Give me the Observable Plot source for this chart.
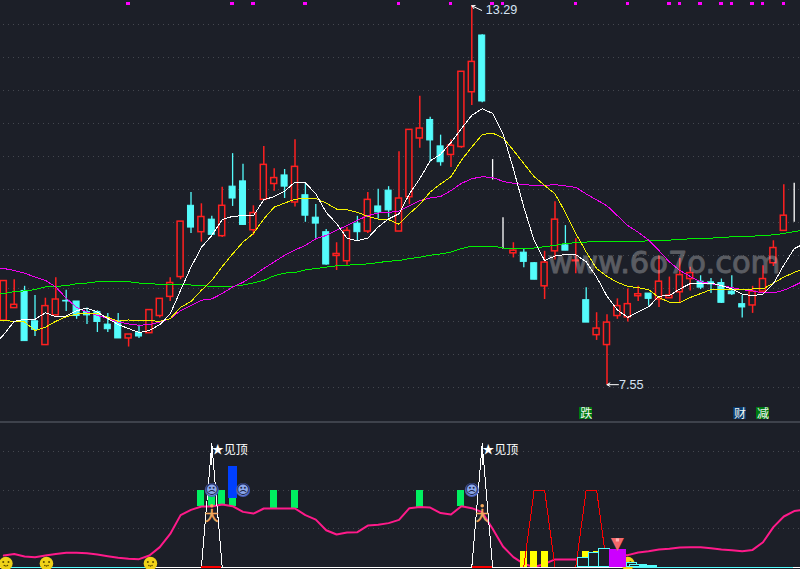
<!DOCTYPE html>
<html><head><meta charset="utf-8">
<script src="https://cdn.jsdelivr.net/npm/d3@7"></script>
<script src="https://cdn.jsdelivr.net/npm/@observablehq/plot@0.6"></script>
<style>html,body{margin:0;padding:0;background:#1c1f28;overflow:hidden}svg{display:block}</style>
</head><body><div id="chart"></div>
<script>
const BG="#1c1f28", RED="#ff3232", CYAN="#54fcfc";
const openP=[8.52,8.71,8.97,8.51,8.15,8.60,8.82,8.81,8.65,8.65,8.46,8.51,8.25,8.33,8.33,8.59,8.88,9.18,10.26,9.86,10.05,9.80,10.55,10.63,9.89,10.35,10.59,10.72,10.31,10.42,10.08,9.86,9.50,9.42,9.99,9.87,10.25,10.49,9.87,10.39,11.28,11.56,11.16,11.03,11.15,11.98,12.84,10.65,9.60,9.54,9.55,9.39,9.04,9.57,9.66,9.42,8.83,8.30,8.15,8.59,8.57,8.89,8.93,8.84,8.86,8.95,9.15,9.11,9.10,9.09,8.96,8.77,8.75,8.96,9.39,9.88,10.01];
const closeP=[9.12,8.76,8.21,8.38,8.74,8.84,8.81,8.59,8.60,8.50,8.39,8.25,8.31,8.28,8.68,8.85,9.09,10.02,9.93,10.09,9.82,10.26,10.37,9.97,10.15,10.88,10.68,10.55,10.85,10.11,9.99,9.37,9.53,9.88,9.86,10.35,10.16,10.19,10.37,11.41,11.43,11.25,10.92,11.17,12.29,12.44,11.84,10.65,9.60,9.58,9.41,9.14,9.40,10.05,9.58,9.43,8.49,8.40,8.49,8.74,8.77,8.92,8.85,9.11,8.90,9.21,9.24,9.02,9.07,8.79,8.92,8.72,8.96,9.15,9.62,10.11,10.01];
const high=[9.12,9.14,9.04,8.90,8.86,9.17,8.98,8.81,8.71,8.67,8.63,8.63,8.31,8.45,8.68,8.85,9.17,10.02,10.46,10.29,10.10,10.54,11.05,10.89,10.26,11.16,10.82,10.81,11.26,10.61,10.28,9.90,9.70,9.93,10.10,10.46,10.51,10.55,11.08,11.41,11.92,11.60,11.33,11.26,12.29,13.29,12.85,10.96,10.08,9.70,9.60,9.40,9.57,10.32,9.96,9.76,9.02,8.64,8.61,8.85,9.00,9.04,8.93,9.50,9.18,9.46,9.33,9.20,9.16,9.15,9.20,8.90,9.04,9.35,9.73,10.58,10.60];
const low=[8.52,8.71,8.21,8.28,8.15,8.60,8.66,8.54,8.46,8.34,8.34,8.25,8.12,8.25,8.33,8.56,8.81,9.14,9.84,9.71,9.82,9.78,10.25,9.96,9.81,10.35,10.48,10.37,10.24,10.01,9.76,9.36,9.28,9.36,9.73,9.84,10.06,10.08,9.87,10.28,11.13,10.92,10.86,10.84,11.13,11.78,11.82,10.65,9.60,9.47,9.32,9.14,8.84,9.44,9.58,9.23,8.49,8.22,7.55,8.54,8.50,8.81,8.74,8.72,8.86,8.78,8.97,8.99,8.93,8.78,8.90,8.56,8.63,8.94,9.34,9.88,10.01];
const ma5=[8.14,8.31,8.51,8.54,8.54,8.64,8.58,8.59,8.67,8.71,8.65,8.55,8.46,8.40,8.34,8.37,8.46,8.62,8.98,9.33,9.63,9.81,10.05,10.10,10.11,10.11,10.35,10.40,10.48,10.62,10.61,10.44,10.16,9.99,9.77,9.73,9.77,9.94,10.06,10.14,10.44,10.67,10.94,11.04,11.22,11.43,11.63,11.73,11.66,11.35,10.82,10.24,9.73,9.43,9.50,9.52,9.52,9.41,9.18,8.89,8.68,8.57,8.65,8.73,8.89,8.90,9.00,9.08,9.09,9.09,9.05,9.00,8.92,8.90,8.92,9.08,9.36,9.61,9.69];
const ma10=[8.52,8.52,8.51,8.50,8.37,8.42,8.51,8.58,8.62,8.63,8.63,8.57,8.51,8.53,8.52,8.52,8.51,8.55,8.72,8.81,8.98,9.13,9.34,9.53,9.71,9.84,10.06,10.24,10.30,10.36,10.37,10.37,10.30,10.21,10.20,10.16,10.10,10.06,10.05,9.98,10.14,10.28,10.47,10.59,10.70,10.95,11.15,11.34,11.36,11.29,11.10,10.90,10.70,10.57,10.44,10.16,9.84,9.56,9.31,9.19,9.10,9.04,9.02,8.99,8.87,8.80,8.79,8.87,8.93,8.99,8.99,8.99,8.99,9.00,9.00,9.09,9.18,9.25,9.31];
const ma20=[9.33,9.31,9.28,9.24,9.18,9.13,9.03,8.86,8.72,8.65,8.60,8.55,8.50,8.47,8.45,8.46,8.50,8.55,8.67,8.75,8.83,8.85,8.93,9.03,9.10,9.20,9.31,9.41,9.51,9.59,9.66,9.76,9.81,9.89,9.96,10.04,10.11,10.15,10.16,10.18,10.26,10.34,10.38,10.40,10.49,10.60,10.67,10.70,10.69,10.63,10.60,10.58,10.57,10.57,10.58,10.56,10.54,10.44,10.35,10.26,10.11,9.96,9.86,9.74,9.58,9.41,9.28,9.19,9.11,9.08,9.05,9.02,8.99,8.97,8.94,8.94,8.98,9.05,9.13];
const ma60=[8.92,8.93,8.96,8.97,8.99,9.03,9.04,9.05,9.08,9.09,9.11,9.11,9.11,9.11,9.09,9.08,9.07,9.06,9.06,9.06,9.05,9.04,9.03,9.04,9.06,9.09,9.13,9.20,9.24,9.25,9.29,9.31,9.33,9.35,9.36,9.37,9.38,9.40,9.42,9.43,9.46,9.48,9.51,9.53,9.56,9.61,9.65,9.65,9.65,9.62,9.62,9.62,9.62,9.64,9.66,9.69,9.70,9.71,9.72,9.72,9.72,9.72,9.72,9.73,9.73,9.74,9.75,9.76,9.76,9.77,9.78,9.79,9.79,9.80,9.81,9.82,9.84,9.87,9.89];
const osc=[7.5,8.5,6.8,6.4,7.5,8.5,9.2,9.2,9,8.1,7,6,5.3,5.1,7.5,12.9,21.5,33.7,37.1,39.3,39.3,40.6,39.5,35.8,34.7,38,38,38,38,33.7,30.8,23.9,21.1,22.4,22.6,26.9,27.4,28.5,30.6,38.2,38.9,38.6,35,34.1,39.5,38.2,35.6,24.8,13.3,6.4,2,0,2,4.9,4.9,4.9,6.4,7,7.4,7.6,7.7,9.4,10.3,11.4,11.8,12.7,12.9,12.9,12.2,11.4,10.9,10.3,11.1,16.1,25.9,32.8,36.3,37.2];
const priceGrid=[13,12.5,12,11.5,11,10.5,10,9.5,9,8.5,8,7.5];
const oscGrid=[25,50,75];
const flagDays=[12,22,24,29,38,43,47,48,55,60,64,65,67,69,70,72,73,75];
const notes=[{i:56,t:"跌",c:"#007a10"},{i:70.8,t:"财",c:"#0a3a6e"},{i:73,t:"减",c:"#007a10"}];
const greenBars=[{i:19,v:50},{i:20,v:45.7},{i:21,v:50},{i:22,v:44.5},{i:26,v:50},{i:28,v:50},{i:40,v:50},{i:44,v:50}];
const blueBars=[{i:22,y1:44.5,y2:65}];
const yellowDays=[50,51,52,56,57];
const yellowTop=10;
const peakDays=[20,46];
const peakTop=80;
const trapezoidA=[[50,0],[51,50],[52,50],[53,0]];
const trapezoidB=[[55,0],[56,50],[57,50],[58,0]];
const cyanBoxes=[{a:55.2,b:56.25,v:6},{a:56.25,b:57.2,v:9.2},{a:57.2,b:58.25,v:11.4},{a:59.9,b:60.85,v:2.7},{a:60.2,b:61.8,v:1.4},{a:61.2,b:62.8,v:.8}];
const purpleBar={a:58.25,b:59.9,v:11.4};
const smileDays=[0.2,4.1,14.1,60];
const sadDays=[20,23,45];
const runDays=[20,46];
const topDays=[20,46];

const idx=d3.range(77);
const up=idx.filter(i=>closeP[i]>openP[i]), dn=idx.filter(i=>closeP[i]<openP[i]), flat=idx.filter(i=>closeP[i]===openP[i]);
const xs={domain:[0,76],range:[3.3,793.7],axis:null};
const w=.29;
const crisp={shapeRendering:"crispEdges"};
// moving averages carry one extra value on each side so that they run off the panel's edges
const maLine=(arr,color,sw=1)=>Plot.line(arr,{x:(d,i)=>i-1,y:d=>d,stroke:color,strokeWidth:sw,...crisp});
const cjk='"Noto Sans CJK SC"';

const upper=Plot.plot({
  width:800,height:421,margin:0,
  style:{background:BG},
  x:xs,
  y:{domain:[6.992,13.37],range:[421,0],axis:null},
  marks:[
    Plot.ruleY(priceGrid,{x1:0,x2:78,stroke:"#44474f",strokeDasharray:"1,4",...crisp}),
    Plot.dot(flagDays,{x:d=>d,y:()=>13.32,symbol:"square",r:1.9,fill:"#ff00ff",dx:-.5,...crisp}),
    Plot.ruleX(up,{x:d=>d,y1:d=>low[d],y2:d=>high[d],stroke:"#ff2020",strokeWidth:1.5}),
    Plot.ruleX(dn,{x:d=>d,y1:d=>low[d],y2:d=>high[d],stroke:CYAN,strokeWidth:1.3}),
    Plot.ruleX(flat,{x:d=>d,y1:d=>low[d],y2:d=>high[d],stroke:"#ffffff",strokeWidth:1.3}),
    Plot.rect(up,{x1:d=>d-w,x2:d=>d+w,y1:d=>openP[d],y2:d=>closeP[d],fill:BG,stroke:"#ff2020",strokeWidth:1.5}),
    Plot.rect(dn,{x1:d=>d-w,x2:d=>d+w,y1:d=>openP[d],y2:d=>closeP[d],fill:CYAN,stroke:CYAN}),
    Plot.rect(flat,{x1:d=>d-w,x2:d=>d+w,y1:d=>openP[d],y2:d=>closeP[d],stroke:"#ffffff",strokeWidth:1.3}),
    maLine(ma60,"#00f000"),
    maLine(ma20,"#f000f0"),
    maLine(ma10,"#f4f400"),
    maLine(ma5,"#ffffff"),
    Plot.arrow([{a:45.95,b:13.22,c:45,d:13.29}],{x1:"a",y1:"b",x2:"c",y2:"d",stroke:"#ffffff",headLength:5,strokeWidth:1,insetEnd:0}),
    Plot.arrow([{a:59.1,b:7.55,c:58,d:7.55}],{x1:"a",y1:"b",x2:"c",y2:"d",stroke:"#ffffff",headLength:5,strokeWidth:1,insetEnd:0}),
    Plot.text(["13.29"],{x:()=>46.33,y:()=>13.22,text:d=>d,textAnchor:"start",fill:"#d6e4f4",fontSize:12.6,fontFamily:"Liberation Sans"}),
    Plot.text(["7.55"],{x:()=>59.15,y:()=>7.55,text:d=>d,textAnchor:"start",fill:"#d6e4f4",fontSize:12.6,fontFamily:"Liberation Sans"}),
    Plot.rect(notes,{x1:d=>d.i-.64,x2:d=>d.i+.64,y1:7.02,y2:7.21,fill:"c",...crisp}),
    Plot.text(notes,{x:"i",y:()=>7.11,text:"t",fill:"#f2f6f2",fontSize:12,fontFamily:cjk}),
    Plot.text(["www.6o7o.com"],{x:()=>63.5,y:()=>9.39,text:d=>d,fill:"#ffffff",stroke:"#ffffff",strokeWidth:.9,opacity:.27,fontSize:30.5,fontFamily:"DejaVu Sans"})
  ]
});

const tri=d=>[[d-1,0],[d,peakTop],[d+1,0]];
const lower=Plot.plot({
  width:800,height:148,margin:0,
  style:{background:BG},
  x:xs,
  y:{domain:[0,94.5],range:[145.5,0],axis:null},
  marks:[
    Plot.ruleY([94.2],{x1:-1,x2:78,stroke:"#3e424c",strokeWidth:1.5,...crisp}),
    Plot.ruleY(oscGrid,{x1:0,x2:78,stroke:"#44474f",strokeDasharray:"1,4",...crisp}),
    Plot.rect(greenBars,{x1:d=>d.i-.33,x2:d=>d.i+.33,y1:d=>osc[d.i],y2:"v",fill:"#00f060",...crisp}),
    Plot.rect(blueBars,{x1:d=>d.i-.43,x2:d=>d.i+.43,y1:"y1",y2:"y2",fill:"#0040ff",...crisp}),
    Plot.line(osc,{x:(d,i)=>i,y:d=>d,stroke:"#ff1a8a",strokeWidth:2}),
    Plot.rect(yellowDays,{x1:d=>d-.33,x2:d=>d+.33,y1:0,y2:()=>yellowTop,fill:"#ffff00",...crisp}),
    Plot.line(trapezoidA,{x:"0",y:"1",stroke:"#ff0000",strokeWidth:1,...crisp}),
    Plot.line(trapezoidB,{x:"0",y:"1",stroke:"#ff0000",strokeWidth:1,...crisp}),
    Plot.ruleY([0],{x1:-1,x2:78,stroke:"#ffffff",strokeWidth:1,...crisp}),
    Plot.ruleY([0],{x1:.5,x2:14.6,stroke:CYAN,strokeWidth:1,...crisp}),
    Plot.ruleY([0],{x1:60,x2:75.9,stroke:CYAN,strokeWidth:1,...crisp}),
    ...peakDays.map(d=>Plot.line(tri(d),{x:"0",y:"1",stroke:"#ffffff",strokeWidth:1,...crisp})),
    Plot.ruleX(peakDays,{x:d=>d,y1:()=>66,y2:()=>peakTop,stroke:"#ffffff",strokeWidth:1,...crisp}),
    ...peakDays.map(d=>Plot.ruleY([0],{x1:d-.95,x2:d+.95,stroke:"#ff0000",strokeWidth:1.4,...crisp})),
    Plot.dot(smileDays,{x:d=>d,y:()=>2.3,r:6.8,fill:"#f0d218"}),
    Plot.dot(smileDays,{x:d=>d,y:()=>2.3,r:1,fill:"#5a4a00",dx:-2.6,dy:-1.4}),
    Plot.dot(smileDays,{x:d=>d,y:()=>2.3,r:1,fill:"#5a4a00",dx:2.6,dy:-1.4}),
    Plot.dot(smileDays,{x:d=>d,y:()=>2.3,r:.8,fill:"#5a4a00",dx:-1.6,dy:2}),
    Plot.dot(smileDays,{x:d=>d,y:()=>2.3,r:.8,fill:"#5a4a00",dy:2.6}),
    Plot.dot(smileDays,{x:d=>d,y:()=>2.3,r:.8,fill:"#5a4a00",dx:1.6,dy:2}),
    Plot.rect(cyanBoxes,{x1:"a",x2:"b",y1:0,y2:"v",fill:BG,stroke:CYAN,strokeWidth:1,...crisp}),
    Plot.rect([purpleBar],{x1:"a",x2:"b",y1:0,y2:"v",fill:"#cc00ff",...crisp}),
    Plot.text([59],{x:d=>d,y:()=>15.2,text:()=>"▼",fill:"#f4686a",fontSize:17,fontFamily:"DejaVu Sans"}),
    Plot.dot([59],{x:d=>d,y:()=>17.6,symbol:"square",r:1.8,fill:"#ffb4b4"}),
    Plot.dot(sadDays,{x:d=>d,y:()=>50,r:7,fill:"#4a60bc"}),
    Plot.dot(sadDays,{x:d=>d,y:()=>50,r:5.6,fill:"#8ba8ec"}),
    Plot.text(sadDays,{x:d=>d,y:()=>50,text:()=>"☹",fill:"#1c2444",fontSize:13,fontFamily:"DejaVu Sans"}),
    Plot.text(runDays,{x:d=>d,y:()=>33,text:()=>"大",fill:"#f2a85c",stroke:"#f2a85c",strokeWidth:.7,fontSize:13,fontFamily:cjk}),
    Plot.dot(runDays,{x:d=>d,y:()=>39.8,r:1.8,fill:"#f2a85c"}),
    Plot.text(topDays,{x:d=>d,y:()=>75.6,text:()=>"★见顶",textAnchor:"start",fill:"#ffffff",fontSize:12,fontFamily:cjk})
  ]
});
document.getElementById("chart").append(upper,lower);
</script>
</body></html>
